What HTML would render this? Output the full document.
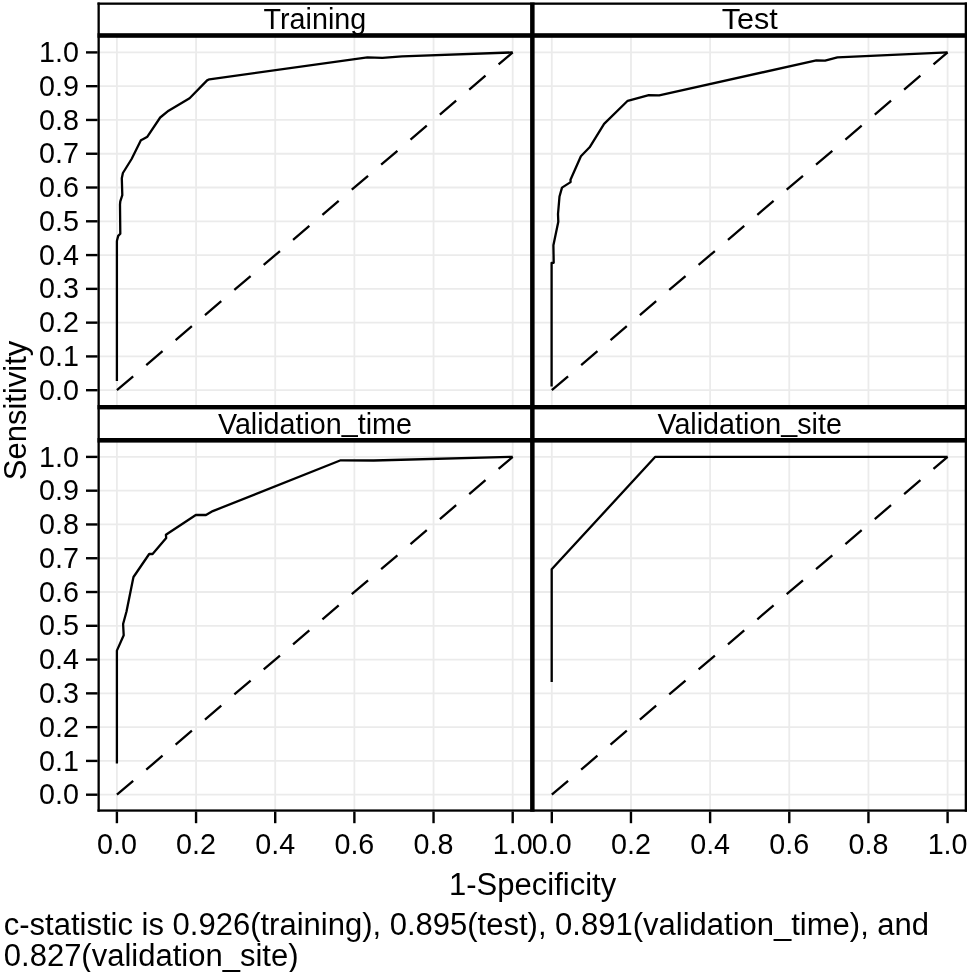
<!DOCTYPE html><html><head><meta charset="utf-8"><style>html,body{margin:0;padding:0;background:#fff;}svg{display:block;will-change:transform}</style></head><body>
<svg width="968" height="972" viewBox="0 0 968 972">
<rect x="0" y="0" width="968" height="972" fill="#fff"/>
<line x1="97.5" y1="390.20" x2="532.3" y2="390.20" stroke="#ebebeb" stroke-width="1.8"/>
<line x1="97.5" y1="356.42" x2="532.3" y2="356.42" stroke="#ebebeb" stroke-width="1.8"/>
<line x1="97.5" y1="322.64" x2="532.3" y2="322.64" stroke="#ebebeb" stroke-width="1.8"/>
<line x1="97.5" y1="288.86" x2="532.3" y2="288.86" stroke="#ebebeb" stroke-width="1.8"/>
<line x1="97.5" y1="255.08" x2="532.3" y2="255.08" stroke="#ebebeb" stroke-width="1.8"/>
<line x1="97.5" y1="221.30" x2="532.3" y2="221.30" stroke="#ebebeb" stroke-width="1.8"/>
<line x1="97.5" y1="187.52" x2="532.3" y2="187.52" stroke="#ebebeb" stroke-width="1.8"/>
<line x1="97.5" y1="153.74" x2="532.3" y2="153.74" stroke="#ebebeb" stroke-width="1.8"/>
<line x1="97.5" y1="119.96" x2="532.3" y2="119.96" stroke="#ebebeb" stroke-width="1.8"/>
<line x1="97.5" y1="86.18" x2="532.3" y2="86.18" stroke="#ebebeb" stroke-width="1.8"/>
<line x1="97.5" y1="52.40" x2="532.3" y2="52.40" stroke="#ebebeb" stroke-width="1.8"/>
<line x1="116.90" y1="35.5" x2="116.90" y2="407.2" stroke="#ebebeb" stroke-width="1.8"/>
<line x1="196.06" y1="35.5" x2="196.06" y2="407.2" stroke="#ebebeb" stroke-width="1.8"/>
<line x1="275.22" y1="35.5" x2="275.22" y2="407.2" stroke="#ebebeb" stroke-width="1.8"/>
<line x1="354.38" y1="35.5" x2="354.38" y2="407.2" stroke="#ebebeb" stroke-width="1.8"/>
<line x1="433.54" y1="35.5" x2="433.54" y2="407.2" stroke="#ebebeb" stroke-width="1.8"/>
<line x1="512.70" y1="35.5" x2="512.70" y2="407.2" stroke="#ebebeb" stroke-width="1.8"/>
<line x1="97.5" y1="794.70" x2="532.3" y2="794.70" stroke="#ebebeb" stroke-width="1.8"/>
<line x1="97.5" y1="760.92" x2="532.3" y2="760.92" stroke="#ebebeb" stroke-width="1.8"/>
<line x1="97.5" y1="727.14" x2="532.3" y2="727.14" stroke="#ebebeb" stroke-width="1.8"/>
<line x1="97.5" y1="693.36" x2="532.3" y2="693.36" stroke="#ebebeb" stroke-width="1.8"/>
<line x1="97.5" y1="659.58" x2="532.3" y2="659.58" stroke="#ebebeb" stroke-width="1.8"/>
<line x1="97.5" y1="625.80" x2="532.3" y2="625.80" stroke="#ebebeb" stroke-width="1.8"/>
<line x1="97.5" y1="592.02" x2="532.3" y2="592.02" stroke="#ebebeb" stroke-width="1.8"/>
<line x1="97.5" y1="558.24" x2="532.3" y2="558.24" stroke="#ebebeb" stroke-width="1.8"/>
<line x1="97.5" y1="524.46" x2="532.3" y2="524.46" stroke="#ebebeb" stroke-width="1.8"/>
<line x1="97.5" y1="490.68" x2="532.3" y2="490.68" stroke="#ebebeb" stroke-width="1.8"/>
<line x1="97.5" y1="456.90" x2="532.3" y2="456.90" stroke="#ebebeb" stroke-width="1.8"/>
<line x1="116.90" y1="440.3" x2="116.90" y2="811.7" stroke="#ebebeb" stroke-width="1.8"/>
<line x1="196.06" y1="440.3" x2="196.06" y2="811.7" stroke="#ebebeb" stroke-width="1.8"/>
<line x1="275.22" y1="440.3" x2="275.22" y2="811.7" stroke="#ebebeb" stroke-width="1.8"/>
<line x1="354.38" y1="440.3" x2="354.38" y2="811.7" stroke="#ebebeb" stroke-width="1.8"/>
<line x1="433.54" y1="440.3" x2="433.54" y2="811.7" stroke="#ebebeb" stroke-width="1.8"/>
<line x1="512.70" y1="440.3" x2="512.70" y2="811.7" stroke="#ebebeb" stroke-width="1.8"/>
<line x1="532.3" y1="390.20" x2="967.0" y2="390.20" stroke="#ebebeb" stroke-width="1.8"/>
<line x1="532.3" y1="356.42" x2="967.0" y2="356.42" stroke="#ebebeb" stroke-width="1.8"/>
<line x1="532.3" y1="322.64" x2="967.0" y2="322.64" stroke="#ebebeb" stroke-width="1.8"/>
<line x1="532.3" y1="288.86" x2="967.0" y2="288.86" stroke="#ebebeb" stroke-width="1.8"/>
<line x1="532.3" y1="255.08" x2="967.0" y2="255.08" stroke="#ebebeb" stroke-width="1.8"/>
<line x1="532.3" y1="221.30" x2="967.0" y2="221.30" stroke="#ebebeb" stroke-width="1.8"/>
<line x1="532.3" y1="187.52" x2="967.0" y2="187.52" stroke="#ebebeb" stroke-width="1.8"/>
<line x1="532.3" y1="153.74" x2="967.0" y2="153.74" stroke="#ebebeb" stroke-width="1.8"/>
<line x1="532.3" y1="119.96" x2="967.0" y2="119.96" stroke="#ebebeb" stroke-width="1.8"/>
<line x1="532.3" y1="86.18" x2="967.0" y2="86.18" stroke="#ebebeb" stroke-width="1.8"/>
<line x1="532.3" y1="52.40" x2="967.0" y2="52.40" stroke="#ebebeb" stroke-width="1.8"/>
<line x1="551.80" y1="35.5" x2="551.80" y2="407.2" stroke="#ebebeb" stroke-width="1.8"/>
<line x1="630.96" y1="35.5" x2="630.96" y2="407.2" stroke="#ebebeb" stroke-width="1.8"/>
<line x1="710.12" y1="35.5" x2="710.12" y2="407.2" stroke="#ebebeb" stroke-width="1.8"/>
<line x1="789.28" y1="35.5" x2="789.28" y2="407.2" stroke="#ebebeb" stroke-width="1.8"/>
<line x1="868.44" y1="35.5" x2="868.44" y2="407.2" stroke="#ebebeb" stroke-width="1.8"/>
<line x1="947.60" y1="35.5" x2="947.60" y2="407.2" stroke="#ebebeb" stroke-width="1.8"/>
<line x1="532.3" y1="794.70" x2="967.0" y2="794.70" stroke="#ebebeb" stroke-width="1.8"/>
<line x1="532.3" y1="760.92" x2="967.0" y2="760.92" stroke="#ebebeb" stroke-width="1.8"/>
<line x1="532.3" y1="727.14" x2="967.0" y2="727.14" stroke="#ebebeb" stroke-width="1.8"/>
<line x1="532.3" y1="693.36" x2="967.0" y2="693.36" stroke="#ebebeb" stroke-width="1.8"/>
<line x1="532.3" y1="659.58" x2="967.0" y2="659.58" stroke="#ebebeb" stroke-width="1.8"/>
<line x1="532.3" y1="625.80" x2="967.0" y2="625.80" stroke="#ebebeb" stroke-width="1.8"/>
<line x1="532.3" y1="592.02" x2="967.0" y2="592.02" stroke="#ebebeb" stroke-width="1.8"/>
<line x1="532.3" y1="558.24" x2="967.0" y2="558.24" stroke="#ebebeb" stroke-width="1.8"/>
<line x1="532.3" y1="524.46" x2="967.0" y2="524.46" stroke="#ebebeb" stroke-width="1.8"/>
<line x1="532.3" y1="490.68" x2="967.0" y2="490.68" stroke="#ebebeb" stroke-width="1.8"/>
<line x1="532.3" y1="456.90" x2="967.0" y2="456.90" stroke="#ebebeb" stroke-width="1.8"/>
<line x1="551.80" y1="440.3" x2="551.80" y2="811.7" stroke="#ebebeb" stroke-width="1.8"/>
<line x1="630.96" y1="440.3" x2="630.96" y2="811.7" stroke="#ebebeb" stroke-width="1.8"/>
<line x1="710.12" y1="440.3" x2="710.12" y2="811.7" stroke="#ebebeb" stroke-width="1.8"/>
<line x1="789.28" y1="440.3" x2="789.28" y2="811.7" stroke="#ebebeb" stroke-width="1.8"/>
<line x1="868.44" y1="440.3" x2="868.44" y2="811.7" stroke="#ebebeb" stroke-width="1.8"/>
<line x1="947.60" y1="440.3" x2="947.60" y2="811.7" stroke="#ebebeb" stroke-width="1.8"/>
<line x1="116.90" y1="390.20" x2="512.70" y2="52.40" stroke="#000" stroke-width="2.3" stroke-dasharray="21.4 17.2"/>
<line x1="116.90" y1="794.70" x2="512.70" y2="456.90" stroke="#000" stroke-width="2.3" stroke-dasharray="21.4 17.2"/>
<line x1="551.80" y1="390.20" x2="947.60" y2="52.40" stroke="#000" stroke-width="2.3" stroke-dasharray="21.4 17.2"/>
<line x1="551.80" y1="794.70" x2="947.60" y2="456.90" stroke="#000" stroke-width="2.3" stroke-dasharray="21.4 17.2"/>
<path d="M116.9 381.1 L116.9 241.5 L117.0 240.5 L118.2 235.9 L120.3 233.8 L120.0 204.5 L120.3 201.4 L122.3 195.2 L121.8 178.3 L122.9 173.0 L131.6 159.0 L140.9 140.3 L142.9 139.2 L147.4 136.7 L160.2 117.5 L168.6 110.7 L189.6 98.3 L207.1 80.4 L209.4 79.3 L367.4 57.3 L382.4 57.9 L402.0 56.3 L512.7 52.4" fill="none" stroke="#000" stroke-width="2.3" stroke-linejoin="round" stroke-linecap="butt"/>
<path d="M551.6 386.6 L551.6 262.8 L553.7 262.8 L553.4 245.3 L558.3 221.7 L558.0 214.0 L559.5 196.5 L562.0 187.6 L570.6 182.1 L570.5 179.8 L580.9 156.2 L589.6 147.3 L604.1 123.9 L627.7 100.8 L648.8 95.2 L659.2 95.4 L816.3 60.4 L825.1 60.7 L837.4 57.4 L947.6 52.4" fill="none" stroke="#000" stroke-width="2.3" stroke-linejoin="round" stroke-linecap="butt"/>
<path d="M116.9 763.5 L116.9 650.6 L123.7 635.3 L123.1 624.0 L126.5 611.5 L133.0 579.2 L133.5 577.0 L149.2 554.0 L152.6 554.0 L166.2 538.1 L165.9 534.7 L195.8 515.0 L206.0 515.0 L212.8 511.1 L340.7 460.3 L373.7 460.5 L512.7 456.9" fill="none" stroke="#000" stroke-width="2.3" stroke-linejoin="round" stroke-linecap="butt"/>
<path d="M551.7 682.0 L551.7 569.3 L655.3 456.8 L947.6 456.8" fill="none" stroke="#000" stroke-width="2.3" stroke-linejoin="round" stroke-linecap="butt"/>
<rect x="97.5" y="2.5" width="869.50" height="2.30" fill="#000"/>
<rect x="97.5" y="2.5" width="2.30" height="809.20" fill="#000"/>
<rect x="964.7" y="2.5" width="2.30" height="809.20" fill="#000"/>
<rect x="97.5" y="809.4" width="869.50" height="2.30" fill="#000"/>
<rect x="530.1" y="2.5" width="4.50" height="809.20" fill="#000"/>
<rect x="97.5" y="33.2" width="869.50" height="4.60" fill="#000"/>
<rect x="97.5" y="405.0" width="869.50" height="4.40" fill="#000"/>
<rect x="97.5" y="438.0" width="869.50" height="4.60" fill="#000"/>
<line x1="86" y1="390.20" x2="97.6" y2="390.20" stroke="#000" stroke-width="2.4"/>
<line x1="86" y1="356.42" x2="97.6" y2="356.42" stroke="#000" stroke-width="2.4"/>
<line x1="86" y1="322.64" x2="97.6" y2="322.64" stroke="#000" stroke-width="2.4"/>
<line x1="86" y1="288.86" x2="97.6" y2="288.86" stroke="#000" stroke-width="2.4"/>
<line x1="86" y1="255.08" x2="97.6" y2="255.08" stroke="#000" stroke-width="2.4"/>
<line x1="86" y1="221.30" x2="97.6" y2="221.30" stroke="#000" stroke-width="2.4"/>
<line x1="86" y1="187.52" x2="97.6" y2="187.52" stroke="#000" stroke-width="2.4"/>
<line x1="86" y1="153.74" x2="97.6" y2="153.74" stroke="#000" stroke-width="2.4"/>
<line x1="86" y1="119.96" x2="97.6" y2="119.96" stroke="#000" stroke-width="2.4"/>
<line x1="86" y1="86.18" x2="97.6" y2="86.18" stroke="#000" stroke-width="2.4"/>
<line x1="86" y1="52.40" x2="97.6" y2="52.40" stroke="#000" stroke-width="2.4"/>
<line x1="86" y1="794.70" x2="97.6" y2="794.70" stroke="#000" stroke-width="2.4"/>
<line x1="86" y1="760.92" x2="97.6" y2="760.92" stroke="#000" stroke-width="2.4"/>
<line x1="86" y1="727.14" x2="97.6" y2="727.14" stroke="#000" stroke-width="2.4"/>
<line x1="86" y1="693.36" x2="97.6" y2="693.36" stroke="#000" stroke-width="2.4"/>
<line x1="86" y1="659.58" x2="97.6" y2="659.58" stroke="#000" stroke-width="2.4"/>
<line x1="86" y1="625.80" x2="97.6" y2="625.80" stroke="#000" stroke-width="2.4"/>
<line x1="86" y1="592.02" x2="97.6" y2="592.02" stroke="#000" stroke-width="2.4"/>
<line x1="86" y1="558.24" x2="97.6" y2="558.24" stroke="#000" stroke-width="2.4"/>
<line x1="86" y1="524.46" x2="97.6" y2="524.46" stroke="#000" stroke-width="2.4"/>
<line x1="86" y1="490.68" x2="97.6" y2="490.68" stroke="#000" stroke-width="2.4"/>
<line x1="86" y1="456.90" x2="97.6" y2="456.90" stroke="#000" stroke-width="2.4"/>
<line x1="116.90" y1="811.6" x2="116.90" y2="823.2" stroke="#000" stroke-width="2.4"/>
<line x1="196.06" y1="811.6" x2="196.06" y2="823.2" stroke="#000" stroke-width="2.4"/>
<line x1="275.22" y1="811.6" x2="275.22" y2="823.2" stroke="#000" stroke-width="2.4"/>
<line x1="354.38" y1="811.6" x2="354.38" y2="823.2" stroke="#000" stroke-width="2.4"/>
<line x1="433.54" y1="811.6" x2="433.54" y2="823.2" stroke="#000" stroke-width="2.4"/>
<line x1="512.70" y1="811.6" x2="512.70" y2="823.2" stroke="#000" stroke-width="2.4"/>
<line x1="551.80" y1="811.6" x2="551.80" y2="823.2" stroke="#000" stroke-width="2.4"/>
<line x1="630.96" y1="811.6" x2="630.96" y2="823.2" stroke="#000" stroke-width="2.4"/>
<line x1="710.12" y1="811.6" x2="710.12" y2="823.2" stroke="#000" stroke-width="2.4"/>
<line x1="789.28" y1="811.6" x2="789.28" y2="823.2" stroke="#000" stroke-width="2.4"/>
<line x1="868.44" y1="811.6" x2="868.44" y2="823.2" stroke="#000" stroke-width="2.4"/>
<line x1="947.60" y1="811.6" x2="947.60" y2="823.2" stroke="#000" stroke-width="2.4"/>
<text x="79" y="399.80" font-family="Liberation Sans" font-size="28.7" text-anchor="end">0.0</text>
<text x="79" y="366.02" font-family="Liberation Sans" font-size="28.7" text-anchor="end">0.1</text>
<text x="79" y="332.24" font-family="Liberation Sans" font-size="28.7" text-anchor="end">0.2</text>
<text x="79" y="298.46" font-family="Liberation Sans" font-size="28.7" text-anchor="end">0.3</text>
<text x="79" y="264.68" font-family="Liberation Sans" font-size="28.7" text-anchor="end">0.4</text>
<text x="79" y="230.90" font-family="Liberation Sans" font-size="28.7" text-anchor="end">0.5</text>
<text x="79" y="197.12" font-family="Liberation Sans" font-size="28.7" text-anchor="end">0.6</text>
<text x="79" y="163.34" font-family="Liberation Sans" font-size="28.7" text-anchor="end">0.7</text>
<text x="79" y="129.56" font-family="Liberation Sans" font-size="28.7" text-anchor="end">0.8</text>
<text x="79" y="95.78" font-family="Liberation Sans" font-size="28.7" text-anchor="end">0.9</text>
<text x="79" y="62.00" font-family="Liberation Sans" font-size="28.7" text-anchor="end">1.0</text>
<text x="79" y="804.30" font-family="Liberation Sans" font-size="28.7" text-anchor="end">0.0</text>
<text x="79" y="770.52" font-family="Liberation Sans" font-size="28.7" text-anchor="end">0.1</text>
<text x="79" y="736.74" font-family="Liberation Sans" font-size="28.7" text-anchor="end">0.2</text>
<text x="79" y="702.96" font-family="Liberation Sans" font-size="28.7" text-anchor="end">0.3</text>
<text x="79" y="669.18" font-family="Liberation Sans" font-size="28.7" text-anchor="end">0.4</text>
<text x="79" y="635.40" font-family="Liberation Sans" font-size="28.7" text-anchor="end">0.5</text>
<text x="79" y="601.62" font-family="Liberation Sans" font-size="28.7" text-anchor="end">0.6</text>
<text x="79" y="567.84" font-family="Liberation Sans" font-size="28.7" text-anchor="end">0.7</text>
<text x="79" y="534.06" font-family="Liberation Sans" font-size="28.7" text-anchor="end">0.8</text>
<text x="79" y="500.28" font-family="Liberation Sans" font-size="28.7" text-anchor="end">0.9</text>
<text x="79" y="466.50" font-family="Liberation Sans" font-size="28.7" text-anchor="end">1.0</text>
<text x="116.90" y="854.3" font-family="Liberation Sans" font-size="28.7" text-anchor="middle">0.0</text>
<text x="196.06" y="854.3" font-family="Liberation Sans" font-size="28.7" text-anchor="middle">0.2</text>
<text x="275.22" y="854.3" font-family="Liberation Sans" font-size="28.7" text-anchor="middle">0.4</text>
<text x="354.38" y="854.3" font-family="Liberation Sans" font-size="28.7" text-anchor="middle">0.6</text>
<text x="433.54" y="854.3" font-family="Liberation Sans" font-size="28.7" text-anchor="middle">0.8</text>
<text x="512.70" y="854.3" font-family="Liberation Sans" font-size="28.7" text-anchor="middle">1.0</text>
<text x="551.80" y="854.3" font-family="Liberation Sans" font-size="28.7" text-anchor="middle">0.0</text>
<text x="630.96" y="854.3" font-family="Liberation Sans" font-size="28.7" text-anchor="middle">0.2</text>
<text x="710.12" y="854.3" font-family="Liberation Sans" font-size="28.7" text-anchor="middle">0.4</text>
<text x="789.28" y="854.3" font-family="Liberation Sans" font-size="28.7" text-anchor="middle">0.6</text>
<text x="868.44" y="854.3" font-family="Liberation Sans" font-size="28.7" text-anchor="middle">0.8</text>
<text x="947.60" y="854.3" font-family="Liberation Sans" font-size="28.7" text-anchor="middle">1.0</text>
<text x="314.90" y="28.9" font-family="Liberation Sans" font-size="28.7" text-anchor="middle">Training</text>
<text x="749.65" y="28.9" font-family="Liberation Sans" font-size="28.7" text-anchor="middle" textLength="56" lengthAdjust="spacingAndGlyphs">Test</text>
<text x="314.90" y="433.6" font-family="Liberation Sans" font-size="28.7" text-anchor="middle">Validation<tspan dy="-2.6">_</tspan><tspan dy="2.6">time</tspan></text>
<text x="749.65" y="433.6" font-family="Liberation Sans" font-size="28.7" text-anchor="middle">Validation<tspan dy="-2.6">_</tspan><tspan dy="2.6">site</tspan></text>
<text x="532.6" y="894.7" font-family="Liberation Sans" font-size="31" text-anchor="middle">1-Specificity</text>
<text transform="translate(25.7 410.5) rotate(-90)" x="0" y="0" font-family="Liberation Sans" font-size="31" text-anchor="middle">Sensitivity</text>
<text x="3.8" y="934.8" font-family="Liberation Sans" font-size="31">c-statistic is 0.926(training), 0.895(test), 0.891(validation_time), and</text>
<text x="3.8" y="965.5" font-family="Liberation Sans" font-size="31">0.827(validation_site)</text>
</svg></body></html>
